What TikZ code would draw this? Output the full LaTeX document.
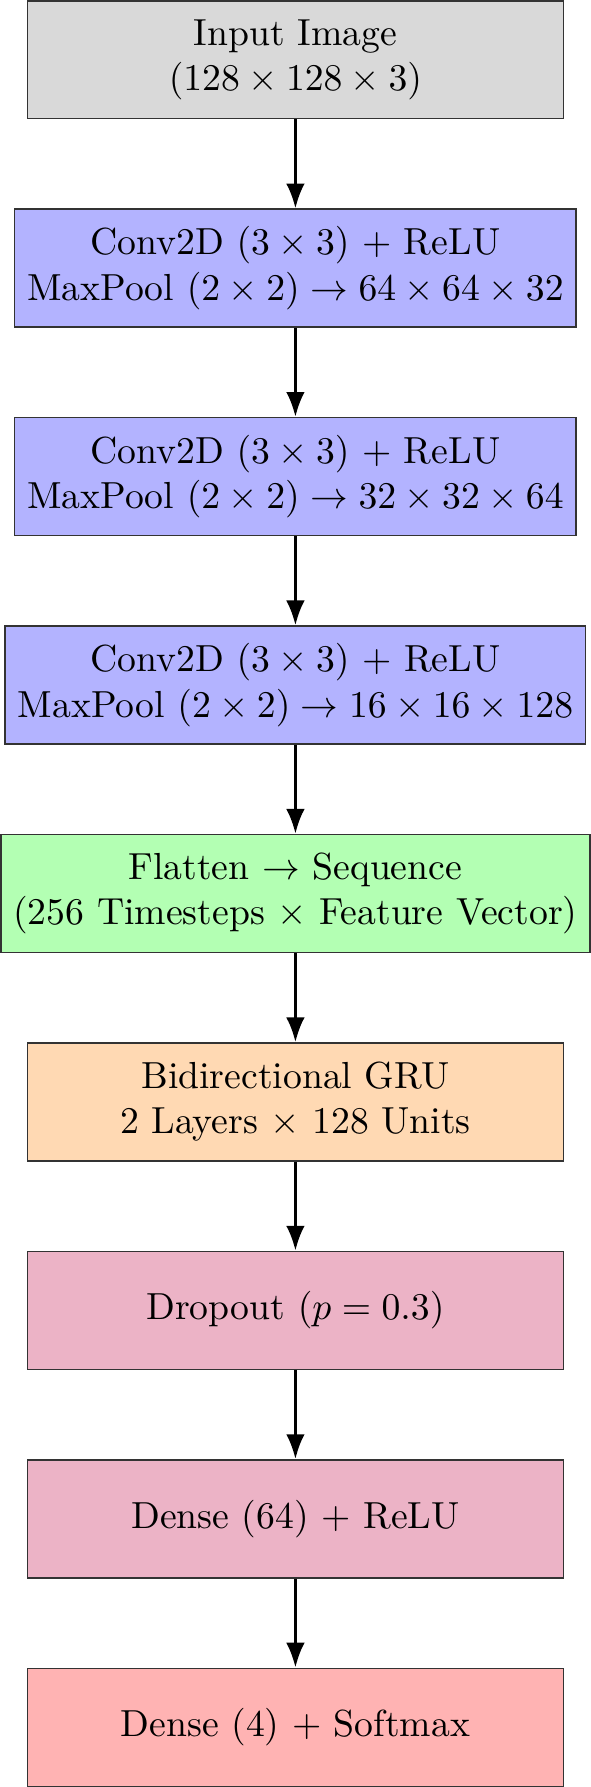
\documentclass[tikz,border=0pt]{standalone}
\usepackage{amsmath, amssymb}
\definecolor{inputfill}{RGB}{217, 217, 217}
\definecolor{convfill}{RGB}{179, 179, 255}
\definecolor{seqfill}{RGB}{179, 255, 179}
\definecolor{grufill}{RGB}{255, 217, 179}
\definecolor{densefill}{RGB}{236, 179, 198}
\definecolor{outfill}{RGB}{255, 179, 179}
\usetikzlibrary{positioning, arrows.meta}
\tikzset{
    layer/.style={draw=black!80, align=center, minimum width=5cm,
        minimum height=1.1cm},
    flow/.style={thick, -Latex},
}

\begin{document}
\begin{tikzpicture}[node distance=0.83cm]
        \node[layer, fill=inputfill] (input)
            {Input Image\\$(128 \times 128 \times 3)$};
        \node[layer, fill=convfill, below=of input] (convA)
            {Conv2D $(3 \times 3)$ + ReLU\\MaxPool $(2 \times 2) \to 64 \times 64 \times 32$};
        \node[layer, fill=convfill, below=of convA] (convB)
            {Conv2D $(3 \times 3)$ + ReLU\\MaxPool $(2 \times 2) \to 32 \times 32 \times 64$};
        \node[layer, fill=convfill, below=of convB] (convC)
            {Conv2D $(3 \times 3)$ + ReLU\\MaxPool $(2 \times 2) \to 16 \times 16 \times 128$};
        \node[layer, fill=seqfill, below=of convC] (flatten)
            {Flatten $\to$ Sequence\\(256 Timesteps $\times$ Feature Vector)};
        \node[layer, fill=grufill, below=of flatten] (gru)
            {Bidirectional GRU\\2 Layers $\times$ 128 Units};
        \node[layer, fill=densefill, below=of gru] (dropout)
            {Dropout $(p = 0.3)$};
        \node[layer, fill=densefill, below=of dropout] (denseA)
            {Dense (64) + ReLU};
        \node[layer, fill=outfill, below=of denseA] (denseB)
            {Dense (4) + Softmax};
        % connectors between the layers
        \draw[flow] (input) -- (convA);
        \draw[flow] (convA) -- (convB);
        \draw[flow] (convB) -- (convC);
        \draw[flow] (convC) -- (flatten);
        \draw[flow] (flatten) -- (gru);
        \draw[flow] (gru) -- (dropout);
        \draw[flow] (dropout) -- (denseA);
        \draw[flow] (denseA) -- (denseB);
    \end{tikzpicture}
\end{document}
